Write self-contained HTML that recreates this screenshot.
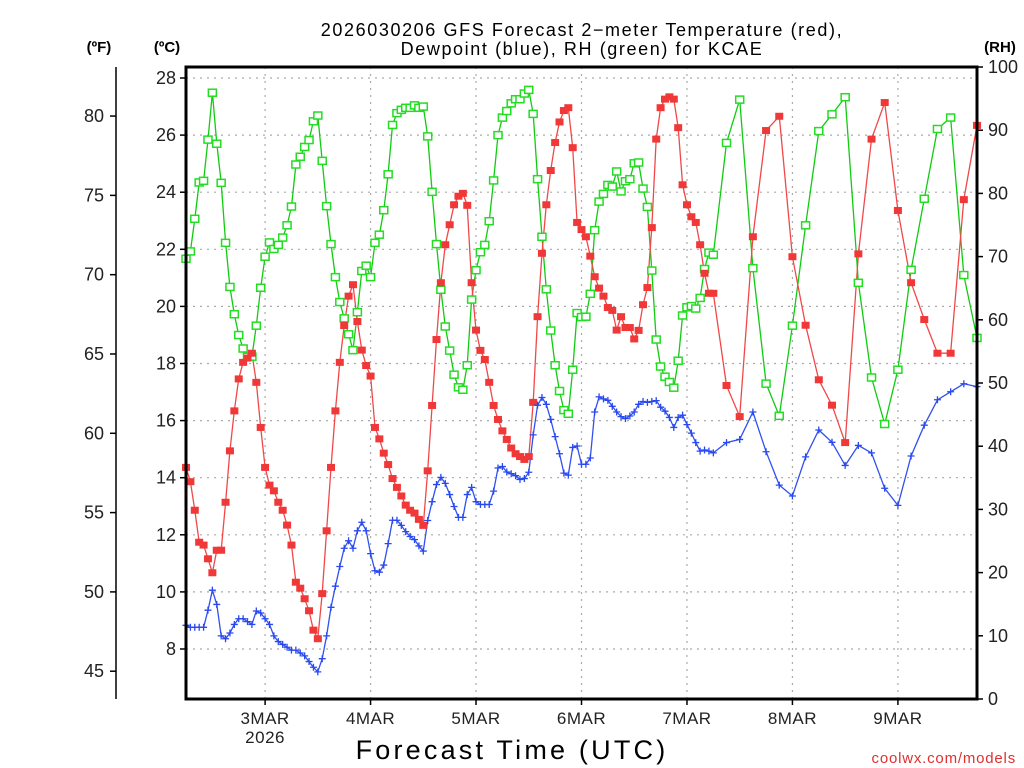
<!DOCTYPE html>
<html><head><meta charset="utf-8">
<style>
body{margin:0;background:#fff;}
svg{display:block;}
text{font-family:"Liberation Sans",sans-serif;}
</style></head>
<body>
<svg id="chart" width="1024" height="768" xmlns="http://www.w3.org/2000/svg">
<rect width="1024" height="768" fill="#fff"/>
<g id="grid"></g>
<g id="series"></g>
<g id="axes"></g>
<text x="582" y="36" font-size="18" text-anchor="middle" fill="#000" letter-spacing="1.6">2026030206 GFS Forecast 2−meter Temperature (red),</text>
<text x="582" y="55" font-size="18" text-anchor="middle" fill="#000" letter-spacing="1.6">Dewpoint (blue), RH (green) for KCAE</text>
<text x="99" y="52" font-size="15" font-weight="bold" text-anchor="middle">(ºF)</text>
<text x="167" y="52" font-size="15" font-weight="bold" text-anchor="middle">(ºC)</text>
<text x="1000" y="52" font-size="15" font-weight="bold" text-anchor="middle">(RH)</text>
<text x="512" y="759" font-size="27" text-anchor="middle" letter-spacing="3.2">Forecast Time (UTC)</text>
<text x="1016" y="763" font-size="15" text-anchor="end" fill="#e03030" letter-spacing="0.8">coolwx.com/models</text>
</svg>
<script>
const tempC=[14.36,13.86,12.86,11.74,11.64,11.16,10.67,11.46,11.46,13.14,14.94,16.34,17.46,18.04,18.19,18.36,17.34,15.76,14.36,13.74,13.54,13.14,12.86,12.34,11.64,10.34,10.13,9.76,9.34,8.66,8.36,9.94,12.14,14.36,16.34,18.04,19.33,20.36,20.76,19.47,18.47,17.93,17.56,15.76,15.36,14.86,14.46,13.97,13.66,13.36,13.04,12.86,12.76,12.54,12.33,14.24,16.53,18.84,20.83,22.16,22.86,23.56,23.86,23.96,23.54,20.83,19.17,18.46,18.14,17.34,16.53,16.04,15.64,15.34,15.04,14.84,14.74,14.64,14.74,16.64,19.64,21.86,23.56,24.76,25.74,26.46,26.86,26.96,25.56,22.94,22.69,22.44,21.76,21.04,20.64,20.36,19.96,19.86,19.17,19.64,19.26,19.26,18.86,19.16,20.06,20.66,22.76,25.86,26.96,27.26,27.34,27.26,26.26,24.26,23.56,23.14,22.94,22.16,21.16,20.46,20.46,17.23,16.14,22.44,26.16,26.66,21.74,19.34,17.43,16.54,15.23,21.84,25.86,27.14,23.36,20.83,19.54,18.36,18.36,23.74,26.34];
const dewC=[8.83,8.76,8.76,8.76,8.76,9.36,10.06,9.56,8.46,8.36,8.56,8.86,9.06,9.06,8.96,8.86,9.33,9.26,9.06,8.86,8.46,8.26,8.16,8.06,7.96,7.96,7.86,7.76,7.56,7.36,7.2,7.66,8.46,9.46,10.2,10.89,11.53,11.79,11.53,12.14,12.44,12.14,11.34,10.74,10.69,10.94,11.69,12.51,12.51,12.33,12.11,11.94,11.83,11.61,11.43,12.5,13.16,13.76,14.01,13.8,13.41,12.99,12.61,12.61,13.41,13.66,13.16,13.06,13.06,13.06,13.53,14.34,14.39,14.2,14.14,14.07,13.94,13.97,14.19,15.5,16.54,16.81,16.57,16.04,15.44,14.84,14.16,14.09,15.06,15.11,14.47,14.47,14.69,16.3,16.83,16.76,16.71,16.5,16.3,16.14,16.07,16.16,16.3,16.57,16.67,16.64,16.67,16.7,16.47,16.33,16.11,15.76,16.11,16.19,15.86,15.56,15.23,14.93,14.97,14.93,14.87,15.23,15.34,16.3,14.91,13.74,13.36,14.73,15.67,15.24,14.43,15.13,14.87,13.63,13.03,14.76,15.84,16.73,17.01,17.29,17.19];
const rhPct=[69.66,70.82,75.98,81.73,81.99,88.51,95.93,87.86,81.67,72.18,65.2,60.88,57.59,55.46,54.16,54.16,59.07,65.07,69.98,72.24,71.21,71.85,73.01,74.95,77.92,84.57,85.8,87.35,88.44,91.41,92.32,85.15,77.98,71.98,66.75,62.81,60.23,57.71,55.2,61.2,67.72,68.56,66.75,72.18,73.47,77.34,83.02,90.83,92.7,93.22,93.54,93.54,93.93,93.54,93.74,89.02,80.25,71.98,64.75,58.94,55.13,51.32,49.32,48.93,52.81,63.2,67.85,70.69,71.85,75.6,82.05,89.22,91.99,93.03,94.25,94.9,94.9,95.8,96.38,92.58,82.25,73.14,64.82,58.3,52.81,48.74,45.71,45.13,52.1,61.07,60.43,60.49,64.11,74.18,78.7,79.92,81.34,81.08,83.47,80.31,81.92,82.25,84.76,84.89,80.76,77.86,67.79,56.88,52.61,51.0,50.16,49.26,53.52,60.68,61.98,62.17,61.78,63.46,68.04,70.63,70.3,87.99,94.84,68.17,49.9,44.8,59.07,74.95,89.86,92.51,95.22,65.85,50.87,43.51,52.1,67.91,79.15,90.19,92.0,67.08,57.13];
const dayLabels=["3MAR","4MAR","5MAR","6MAR","7MAR","8MAR","9MAR"];
const cTicks=[8,10,12,14,16,18,20,22,24,26,28];
const fTicks=[45,50,55,60,65,70,75,80];
const rhTicks=[0,10,20,30,40,50,60,70,80,90,100];
// forecast hours from 2026-03-02 06Z: hourly to 120, then 3-hourly to 180
const hours=[];
for(let h=0;h<=120;h++)hours.push(h);
for(let h=123;h<=180;h+=3)hours.push(h);

const X0=186,X1=977,Y0=67,Y1=699,H_MAX=180;
const xS=h=>X0+h*(X1-X0)/H_MAX;
const yC=c=>649-(c-8)*28.55;
const yF=f=>yC((f-32)/1.8);
const yRH=r=>Y1-r*(Y1-Y0)/100;
const NS="http://www.w3.org/2000/svg";
function mk(tag,attrs,parent){const e=document.createElementNS(NS,tag);for(const k in attrs)e.setAttribute(k,attrs[k]);parent.appendChild(e);return e;}
const grid=document.getElementById('grid'),ser=document.getElementById('series'),ax=document.getElementById('axes');

cTicks.forEach(c=>{
  const l=mk('line',{x1:X0,x2:X1,y1:yC(c),y2:yC(c),stroke:'#aaa','stroke-width':1.2,'stroke-dasharray':'2,5'},grid);
  
  
  const t=mk('line',{x1:X0-6,x2:X0,y1:yC(c),y2:yC(c),stroke:'#000','stroke-width':1.5},ax);
  
  
  const tx=mk('text',{x:X0-10,y:yC(c)+6,'font-size':18,'text-anchor':'end',fill:'#222'},ax);
  tx.textContent=c;
  
  
});
dayLabels.forEach((d,i)=>{
  const h=18+24*i,x=xS(h);
  const l=mk('line',{x1:x,x2:x,y1:Y0,y2:Y1,stroke:'#aaa','stroke-width':1.2,'stroke-dasharray':'2,5'},grid);
  
  
  const t=mk('line',{x1:x,x2:x,y1:Y1,y2:Y1+6,stroke:'#000','stroke-width':1.5},ax);
  
  
  const tx=mk('text',{x:x,y:724,'font-size':17,'text-anchor':'middle',fill:'#222','letter-spacing':0.5},ax);
  tx.textContent=d;
  
  
});
const yr=mk('text',{x:xS(18),y:743,'font-size':17,'text-anchor':'middle',fill:'#222','letter-spacing':0.5},ax);
yr.textContent='2026';



const fl=mk('line',{x1:116,x2:116,y1:Y0,y2:Y1,stroke:'#000','stroke-width':1.5},ax);


fTicks.forEach(f=>{
  const t=mk('line',{x1:110,x2:116,y1:yF(f),y2:yF(f),stroke:'#000','stroke-width':1.5},ax);
  
  
  const tx=mk('text',{x:104,y:yF(f)+6,'font-size':18,'text-anchor':'end',fill:'#222'},ax);
  tx.textContent=f;
  
  
});
rhTicks.forEach(r=>{
  const t=mk('line',{x1:X1,x2:X1+6,y1:yRH(r),y2:yRH(r),stroke:'#000','stroke-width':1.5},ax);
  
  
  const tx=mk('text',{x:988,y:yRH(r)+6,'font-size':18,'text-anchor':'start',fill:'#222'},ax);
  tx.textContent=r;
  
  
});
const frame=mk('rect',{x:X0,y:Y0,width:X1-X0,height:Y1-Y0,fill:'none',stroke:'#000','stroke-width':3},ax);



function line(vals,yf,color,name){
  const pts=vals.map((v,i)=>xS(hours[i]).toFixed(1)+','+yf(v).toFixed(1)).join(' ');
  const p=mk('polyline',{points:pts,fill:'none',stroke:color,'stroke-width':1.3},ser);
  
  
}
line(rhPct,yRH,'#10cc10','rh-line');
line(tempC,yC,'#f04848','temperature-line');
line(dewC,yC,'#3050f0','dewpoint-line');
rhPct.forEach((v,i)=>{
  const m=mk('rect',{x:xS(hours[i])-4,y:yRH(v)-3.5,width:8,height:7,fill:'#fff',stroke:'#22dd22','stroke-width':1.5},ser);
  
  
});
tempC.forEach((v,i)=>{
  const m=mk('rect',{x:xS(hours[i])-4,y:yC(v)-3.5,width:8,height:7,fill:'#f03838'},ser);
  
  
});
dewC.forEach((v,i)=>{
  const x=xS(hours[i]),y=yC(v);
  const m=mk('path',{d:`M${x-3.5},${y}H${x+3.5}M${x},${y-3.5}V${y+3.5}`,stroke:'#2848f0','stroke-width':1.3,fill:'none'},ser);
  
  
});
</script>
</body></html>
